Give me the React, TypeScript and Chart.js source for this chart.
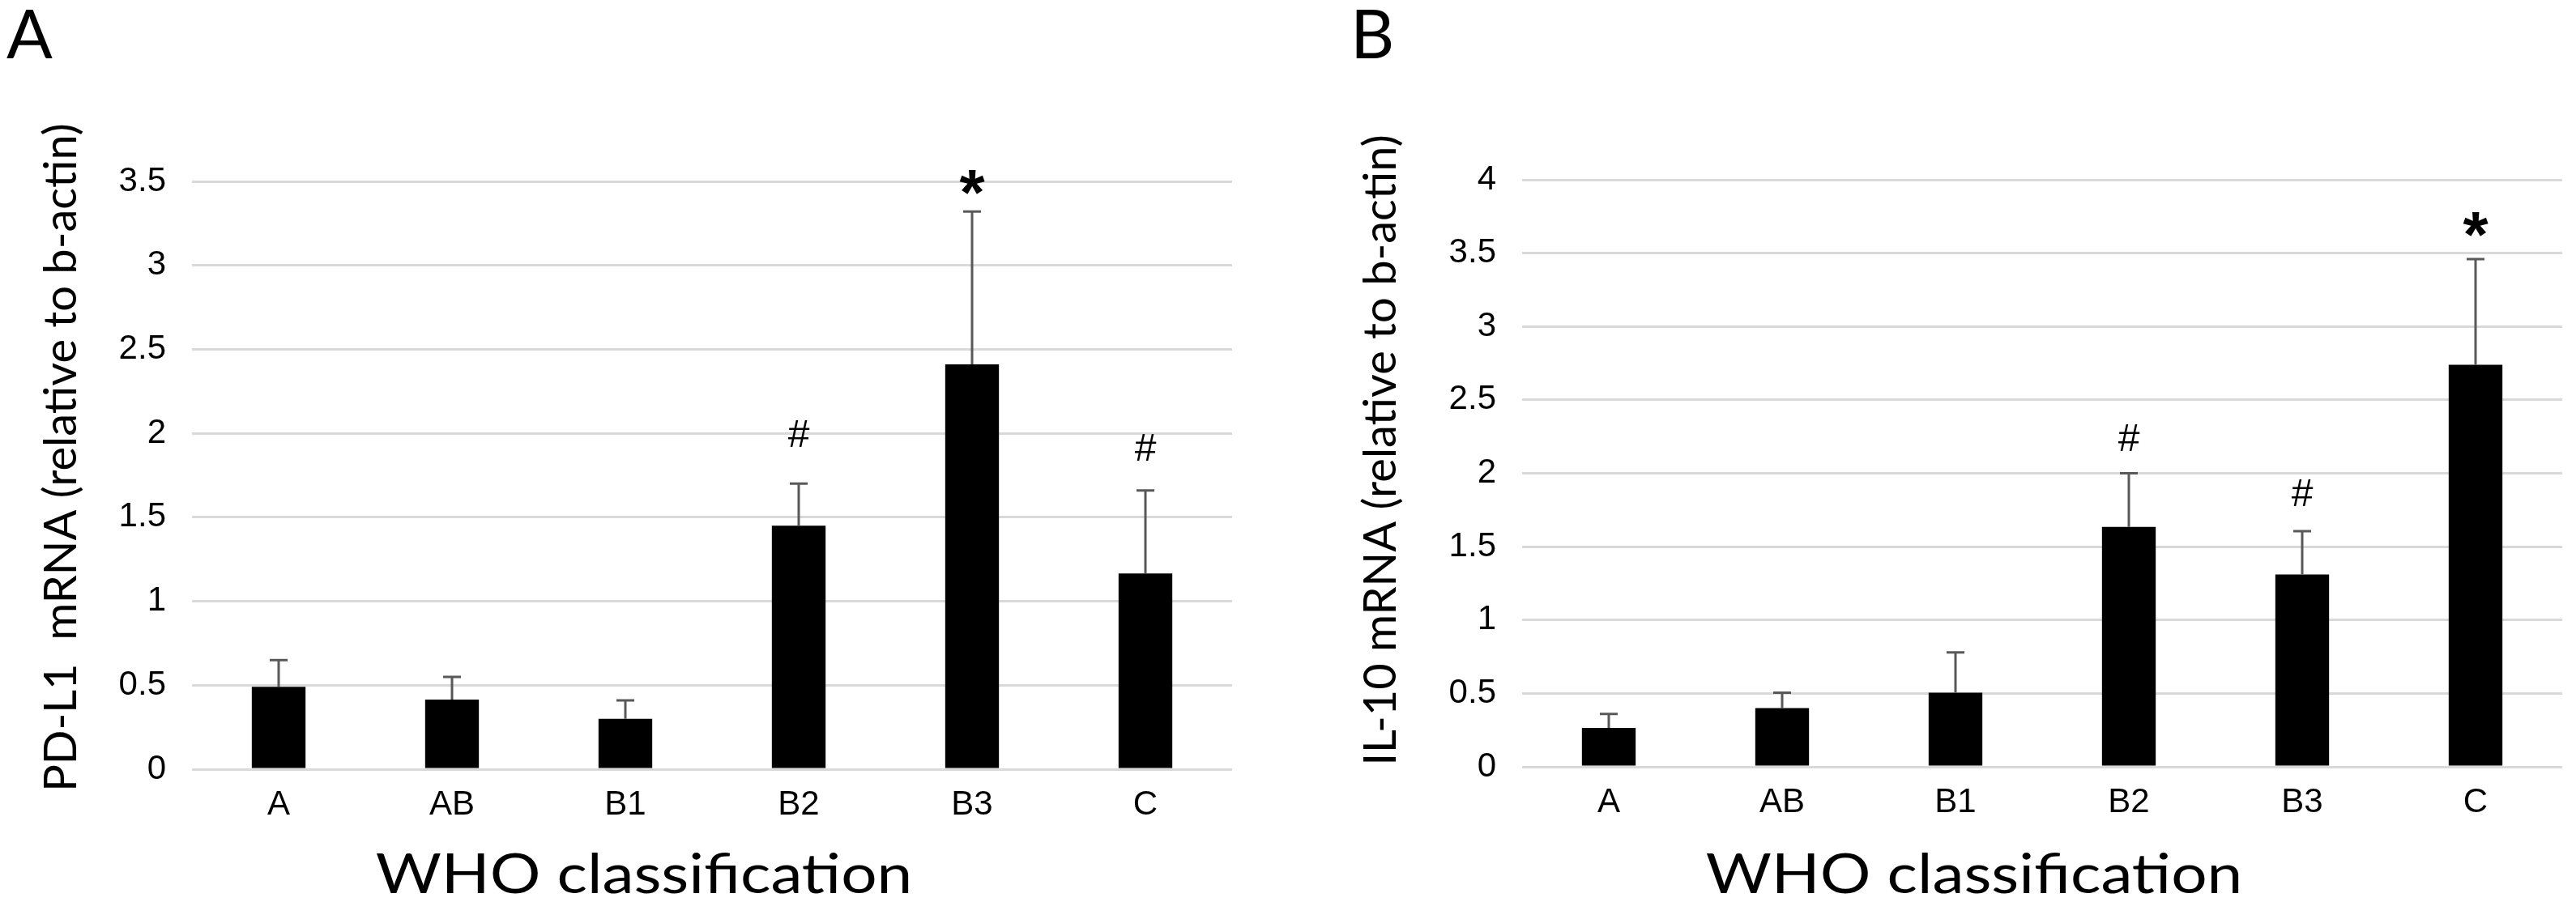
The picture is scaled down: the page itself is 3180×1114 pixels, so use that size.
import React, { useEffect, useRef } from 'react';
import { Chart, registerables } from 'chart.js';

Chart.register(...registerables);

// ---------- data ----------
const CATEGORIES = ['A', 'AB', 'B1', 'B2', 'B3', 'C'];

const PDL1_MEAN = [0.49, 0.415, 0.3, 1.45, 2.41, 1.165];
const PDL1_SD = [0.16, 0.135, 0.11, 0.25, 0.91, 0.495];
const PDL1_MARKS = ['', '', '', '#', '*', '#'];
const PDL1_MARK_AT = [0, 0, 0, 2.0, 3.5, 1.92];
const PDL1_MAX = 3.5;

const IL10_MEAN = [0.265, 0.4, 0.505, 1.635, 1.31, 2.74];
const IL10_SD = [0.095, 0.105, 0.275, 0.365, 0.295, 0.72];
const IL10_MARKS = ['', '', '', '#', '#', '*'];
const IL10_MARK_AT = [0, 0, 0, 2.245, 1.87, 3.7];
const IL10_MAX = 4;

const TICK_STEP = 0.5;
const X_TITLE = 'WHO classification';
const PDL1_TITLE = 'PD-L1  mRNA (relative to b-actin)';
const IL10_TITLE = 'IL-10 mRNA (relative to b-actin)';

const TICK_FONT = { family: "'Liberation Sans', Arial, sans-serif", size: 42 };
const TITLE_FAMILY = 'Lato, Carlito, Calibri, sans-serif';

const errorBarPlugin = {
  id: 'errorBars',
  afterDatasetsDraw(chart: any) {
    const { ctx } = chart;
    const y = chart.scales.y;
    const meta = chart.getDatasetMeta(0);
    const ds: any = chart.data.datasets[0];
    ctx.save();
    ctx.strokeStyle = '#595959';
    ctx.lineWidth = 3;
    meta.data.forEach((bar: any, i: number) => {
      const top = y.getPixelForValue(ds.data[i] + ds.errors[i]);
      const x = Math.round(bar.x);
      ctx.beginPath();
      ctx.moveTo(x, bar.y);
      ctx.lineTo(x, top);
      ctx.moveTo(x - 11, top);
      ctx.lineTo(x + 11, top);
      ctx.stroke();
    });
    // significance marks
    ctx.fillStyle = '#000';
    ctx.textAlign = 'center';
    ctx.textBaseline = 'alphabetic';
    meta.data.forEach((bar: any, i: number) => {
      const m = ds.marks[i];
      if (!m) return;
      const py = y.getPixelForValue(ds.markAt[i]);
      if (m === '*') {
        ctx.font = "bold 80px 'Liberation Sans', Arial, sans-serif";
        ctx.fillText(m, bar.x, py + 0.51 * 80);
      } else {
        ctx.font = "48px 'Liberation Sans', Arial, sans-serif";
        ctx.fillText(m, bar.x, py + 0.36 * 48);
      }
    });
    ctx.restore();
  },
};

// panel letter and axis titles (drawn like the original Calibri text)
const panelTextPlugin = {
  id: 'panelText',
  afterDraw(chart: any, _args: any, opts: any) {
    const { ctx, chartArea } = chart;
    ctx.save();
    ctx.fillStyle = '#000';
    ctx.textBaseline = 'alphabetic';
    ctx.font = `84px ${TITLE_FAMILY}`;
    ctx.textAlign = 'left';
    ctx.fillText(opts.letter, opts.letterX, 72);

    // x-axis title
    ctx.save();
    const cx = (chartArea.left + chartArea.right) / 2 + opts.xTitleShift;
    ctx.font = `67px ${TITLE_FAMILY}`;
    ctx.textAlign = 'center';
    ctx.translate(cx, 1103);
    ctx.scale(1.17, 1);
    ctx.fillText(X_TITLE, 0, 0);
    ctx.restore();

    // y-axis title
    ctx.save();
    ctx.font = `56px ${TITLE_FAMILY}`;
    ctx.textAlign = 'center';
    ctx.textBaseline = 'middle';
    ctx.translate(opts.yTitleX, opts.yTitleY);
    ctx.rotate(-Math.PI / 2);
    ctx.fillText(opts.yTitle, 0, 0);
    ctx.restore();

    ctx.restore();
  },
};

function makeConfig(p: {
  mean: number[];
  sd: number[];
  marks: string[];
  markAt: number[];
  max: number;
  yTitle: string;
  letter: string;
  letterX: number;
  axisWidth: number;
  top: number;
  xHeight: number;
  padRight: number;
  yTitleX: number;
  yTitleY: number;
}) {
  return {
    type: 'bar',
    data: {
      labels: CATEGORIES,
      datasets: [
        {
          data: p.mean,
          errors: p.sd,
          marks: p.marks,
          markAt: p.markAt,
          backgroundColor: '#000',
          borderWidth: 0,
          barPercentage: 0.31,
          categoryPercentage: 1,
        },
      ],
    },
    options: {
      animation: false,
      responsive: false,
      devicePixelRatio: 1,
      layout: { padding: { left: 0, right: p.padRight, top: p.top, bottom: 0 } },
      plugins: {
        legend: { display: false },
        tooltip: { enabled: false },
        panelText: {
          letter: p.letter,
          letterX: p.letterX,
          xTitleShift: -84,
          yTitle: p.yTitle,
          yTitleX: p.yTitleX,
          yTitleY: p.yTitleY,
        },
      },
      scales: {
        x: {
          grid: { display: false, drawTicks: false },
          border: { display: false },
          ticks: { font: TICK_FONT, color: '#000', padding: 19 },
          afterFit: (s: any) => {
            s.height = p.xHeight;
          },
        },
        y: {
          min: 0,
          max: p.max,
          ticks: {
            stepSize: TICK_STEP,
            font: TICK_FONT,
            color: '#000',
            padding: 32,
            callback: (v: any) => String(v),
          },
          grid: { color: '#d9d9d9', lineWidth: 3, drawTicks: false },
          border: { display: false },
          afterFit: (s: any) => {
            s.width = p.axisWidth;
          },
        },
      },
    },
    plugins: [errorBarPlugin, panelTextPlugin],
  } as any;
}

export default function App() {
  const refA = useRef<HTMLCanvasElement>(null);
  const refB = useRef<HTMLCanvasElement>(null);

  useEffect(() => {
    document.body.style.margin = '0';
    let charts: Chart[] = [];
    let cancelled = false;
    const fonts = [
      document.fonts.load(`56px Lato`),
      document.fonts.load(`84px Lato`),
      document.fonts.load(`42px 'Liberation Sans'`),
      document.fonts.load(`bold 80px 'Liberation Sans'`),
    ];
    Promise.all(fonts)
      .catch(() => null)
      .then(() => {
        if (cancelled || !refA.current || !refB.current) return;
        charts.push(
          new Chart(
            refA.current,
            makeConfig({
              mean: PDL1_MEAN,
              sd: PDL1_SD,
              marks: PDL1_MARKS,
              markAt: PDL1_MARK_AT,
              max: PDL1_MAX,
              yTitle: PDL1_TITLE,
              letter: 'A',
              letterX: 8,
              axisWidth: 237,
              top: 224,
              xHeight: 164,
              padRight: 69,
              yTitleX: 76,
              yTitleY: 565,
            })
          )
        );
        charts.push(
          new Chart(
            refB.current,
            makeConfig({
              mean: IL10_MEAN,
              sd: IL10_SD,
              marks: IL10_MARKS,
              markAt: IL10_MARK_AT,
              max: IL10_MAX,
              yTitle: IL10_TITLE,
              letter: 'B',
              letterX: 77,
              axisWidth: 289,
              top: 222,
              xHeight: 167,
              padRight: 17,
              yTitleX: 115,
              yTitleY: 556,
            })
          )
        );
      });
    return () => {
      cancelled = true;
      charts.forEach((c) => c.destroy());
      charts = [];
    };
  }, []);

  const style = (left: number): React.CSSProperties => ({
    position: 'absolute',
    top: 0,
    left,
    width: '1590px',
    height: '1114px',
  });

  return (
    <div style={{ position: 'absolute', top: 0, left: 0, width: 3180, height: 1114, background: '#fff' }}>
      <canvas ref={refA} width={1590} height={1114} style={style(0)} />
      <canvas ref={refB} width={1590} height={1114} style={style(1590)} />
    </div>
  );
}
